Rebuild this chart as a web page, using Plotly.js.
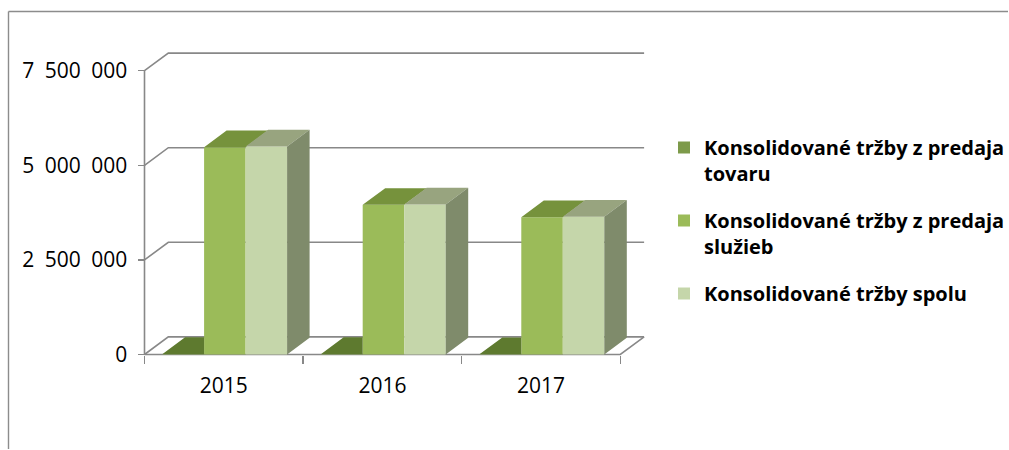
<!DOCTYPE html>
<html>
<head>
<meta charset="utf-8">
<script src="https://cdn.plot.ly/plotly-3.0.1.min.js"></script>
<style>html,body{margin:0;padding:0;background:#fff;overflow:hidden;}#chart{width:1009px;height:450px;overflow:hidden;}</style>
</head>
<body>
<div id="chart"></div>
<script>
// ---- data ----
const years = ['2015', '2016', '2017'];
const seriesNames = [
  'Konsolidované tržby z predaja<br>tovaru',
  'Konsolidované tržby z predaja<br>služieb',
  'Konsolidované tržby spolu'
];
const tovaru = [15000, 12000, 10000];
const sluzby = [5480000, 3955000, 3630000];
const spolu  = [5495000, 3967000, 3640000];
const yTickVals = [0, 2500000, 5000000, 7500000];

// ---- geometry / style ----
const series = [tovaru, sluzby, spolu];
const frontColors = ['#7D9A4A', '#9BBB59', '#C5D6AA'];
const topColors = ['#5E7A2F', '#76923C', '#98A47F'];
const sideColor = '#7F8B6B';
const lineColor = '#888888';

const PX0 = 144.5, PXU = 158.6, PY0 = 354.5, PYU = 37.84e-6;
const plotL = 100, plotR = 660, plotT = 30, plotB = 390;
const xr = [(plotL - PX0) / PXU - 0.5, (plotR - PX0) / PXU - 0.5];
const yr = [(PY0 - plotB) / PYU, (PY0 - plotT) / PYU];
const dxW = 23.8 / PXU, dyW = 17.6 / PYU;   // wall/floor depth
const dxB = 22.5 / PXU, dyB = 16.7 / PYU;   // bar depth
const bw = 0.2617, off0 = -0.386;
const xs = years.map((_, i) => i);

const traces = [];
// front faces (bars)
series.forEach((vals, k) => {
  traces.push({
    type: 'bar', x: xs, y: vals, width: bw, offset: off0 + k * bw,
    name: seriesNames[k], legendgroup: 'g' + k,
    marker: {color: frontColors[k], line: {width: 0}},
    hoverinfo: 'y+name'
  });
});
// top faces
series.forEach((vals, k) => {
  const px = [], py = [];
  vals.forEach((v, i) => {
    const x0 = i + off0 + k * bw, x1 = x0 + bw;
    if (k === 0) {
      px.push(x0, x1, x1, x0 + dxB, x0, null);
    } else {
      px.push(x0, x1, x1 + dxB, x0 + dxB, x0, null);
    }
    py.push(v, v, v + dyB, v + dyB, v, null);
  });
  traces.push({
    type: 'scatter', mode: 'lines', x: px, y: py, fill: 'toself',
    fillcolor: topColors[k], line: {width: 0, color: topColors[k]},
    showlegend: false, hoverinfo: 'skip', legendgroup: 'g' + k
  });
});
// right side faces of the last bar
{
  const px = [], py = [];
  spolu.forEach((v, i) => {
    const x1 = i + off0 + 3 * bw;
    px.push(x1, x1, x1 + dxB, x1 + dxB, x1, null);
    py.push(0, v, v + dyB, dyB, 0, null);
  });
  traces.push({
    type: 'scatter', mode: 'lines', x: px, y: py, fill: 'toself',
    fillcolor: sideColor, line: {width: 0, color: sideColor},
    showlegend: false, hoverinfo: 'skip', legendgroup: 'g2'
  });
}

// walls: perspective gridlines, floor and front axis line
const n = years.length;
const shapes = [];
const lineStyle = {color: lineColor, width: 1.6};
yTickVals.forEach(v => {
  shapes.push({
    type: 'path', xref: 'x', yref: 'y', layer: 'below', line: lineStyle,
    path: `M${-0.5},${v} L${-0.5 + dxW},${v + dyW} L${n - 0.5 + dxW},${v + dyW}`
  });
});
shapes.push({
  type: 'path', xref: 'x', yref: 'y', layer: 'below', line: lineStyle,
  path: `M${-0.5},0 L${n - 0.5},0 L${n - 0.5 + dxW},${dyW}`
});
shapes.push({
  type: 'path', xref: 'x', yref: 'y', layer: 'below', line: lineStyle,
  path: `M${-0.5},0 L${-0.5},${yTickVals[yTickVals.length - 1]}`
});
// chart border (top and left edges visible)
const pw = plotR - plotL, ph = plotB - plotT;
const borderStyle = {color: '#8C8C8C', width: 1.4};
shapes.push({
  type: 'line', xref: 'paper', yref: 'paper', layer: 'below', line: borderStyle,
  x0: (8.5 - plotL) / pw, x1: (1008 - plotL) / pw,
  y0: (plotB - 11.5) / ph, y1: (plotB - 11.5) / ph
});
shapes.push({
  type: 'line', xref: 'paper', yref: 'paper', layer: 'below', line: borderStyle,
  x0: (8.5 - plotL) / pw, x1: (8.5 - plotL) / pw,
  y0: (plotB - 11.5) / ph, y1: (plotB - 449) / ph
});

const tickFont = {family: 'Open Sans, sans-serif', size: 21, color: '#000'};
const layout = {
  width: 1009, height: 450,
  margin: {l: plotL, r: 1009 - plotR, t: plotT, b: 450 - plotB, pad: 0, autoexpand: false},
  paper_bgcolor: '#fff', plot_bgcolor: 'rgba(0,0,0,0)',
  separators: ',\u2002',
  barmode: 'overlay',
  showlegend: true,
  xaxis: {
    range: xr, fixedrange: true, anchor: 'free', automargin: false,
    position: (plotB - PY0) / ph,
    showgrid: false, zeroline: false, showline: false,
    tickmode: 'array', tickvals: xs, ticktext: years, ticks: '',
    tickfont: tickFont, ticklabelstandoff: 16,
    minor: {tickmode: 'array', tickvals: [-0.5, 0.5, 1.5, 2.5], ticks: 'outside',
            ticklen: 8, tickwidth: 1.5, tickcolor: lineColor, showgrid: false}
  },
  yaxis: {
    range: yr, fixedrange: true, anchor: 'free', automargin: false,
    position: (PX0 - plotL) / pw,
    showgrid: false, zeroline: false, showline: false,
    tickmode: 'array', tickvals: yTickVals, tickformat: ',d',
    ticks: 'outside', ticklen: 7, tickwidth: 1.5, tickcolor: lineColor,
    tickfont: tickFont, ticklabelstandoff: 6
  },
  legend: {
    x: (664 - plotL) / pw, xanchor: 'left',
    y: (plotB - 128) / ph, yanchor: 'top',
    traceorder: 'grouped', valign: 'top', tracegroupgap: 18,
    bgcolor: 'rgba(0,0,0,0)',
    font: {family: 'Open Sans, sans-serif', size: 20, color: '#000', weight: 'bold'}
  },
  shapes: shapes
};

Plotly.newPlot('chart', traces, layout, {staticPlot: true, displayModeBar: false});
</script>
</body>
</html>
